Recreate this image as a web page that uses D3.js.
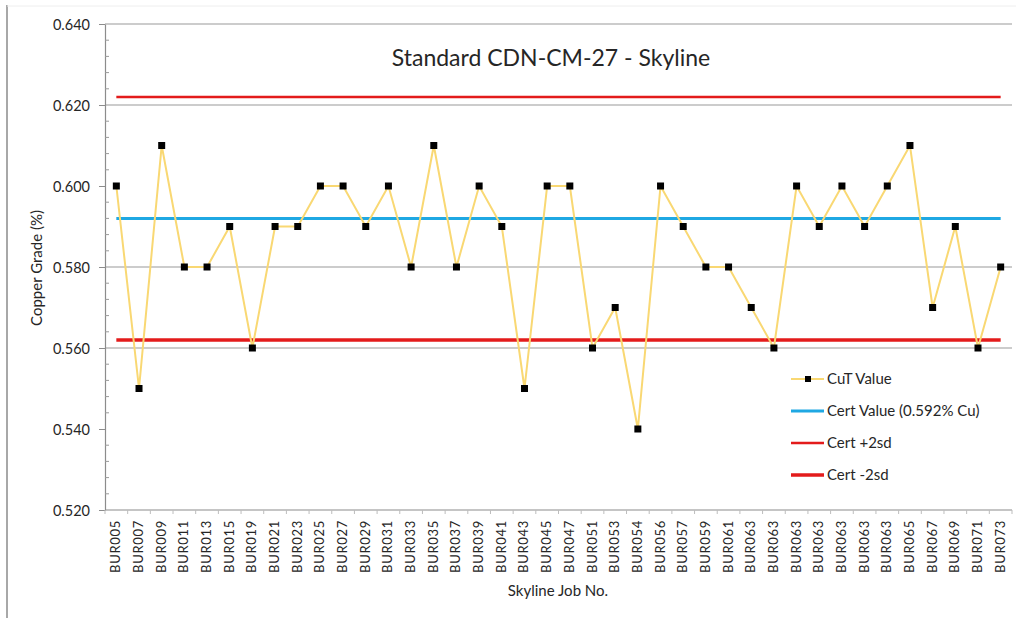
<!DOCTYPE html>
<html lang="en">
<head>
    <meta charset="UTF-8">
    <title>Standard CDN-CM-27 - Skyline</title>
    <script src="https://d3js.org/d3.v7.min.js"></script>
    <style>
        body { margin: 0; background: #fff; }
        svg text { font-family: Lato, "Open Sans", sans-serif; fill: #262626; }
        .axis path, .axis line { stroke: #8c8c8c; }
    </style>
</head>
<body>
    <script>
        // Chart data
        const jobs = ["BUR005","BUR007","BUR009","BUR011","BUR013","BUR015","BUR019","BUR021","BUR023","BUR025",
                      "BUR027","BUR029","BUR031","BUR033","BUR035","BUR037","BUR039","BUR041","BUR043","BUR045",
                      "BUR047","BUR051","BUR053","BUR054","BUR056","BUR057","BUR059","BUR061","BUR063","BUR063",
                      "BUR063","BUR063","BUR063","BUR063","BUR063","BUR065","BUR067","BUR069","BUR071","BUR073"];
        const cutValues = [0.600,0.550,0.610,0.580,0.580,0.590,0.560,0.590,0.590,0.600,
                           0.600,0.590,0.600,0.580,0.610,0.580,0.600,0.590,0.550,0.600,
                           0.600,0.560,0.570,0.540,0.600,0.590,0.580,0.580,0.570,0.560,
                           0.600,0.590,0.600,0.590,0.600,0.610,0.570,0.590,0.560,0.580];
        const certValue = 0.592;
        const certPlus2sd = 0.622;
        const certMinus2sd = 0.562;
        const yTicks = [0.520, 0.540, 0.560, 0.580, 0.600, 0.620, 0.640];
        const gridValues = [0.560, 0.580, 0.620, 0.640]; // only these show in the original
        const legendLabels = ["CuT Value", "Cert Value (0.592% Cu)", "Cert +2sd", "Cert -2sd"];

        const width = 1016, height = 618;
        const plotLeft = 105, plotRight = 1012, plotTop = 24, plotBottom = 510;

        const svg = d3.select("body").append("svg")
            .attr("width", width)
            .attr("height", height);

        // outer frame bits
        svg.append("line").attr("x1", 7).attr("x2", 7).attr("y1", 5).attr("y2", height)
            .attr("stroke", "#a8a8a8").attr("stroke-width", 2);
        svg.append("line").attr("x1", 7).attr("x2", width).attr("y1", 6).attr("y2", 6)
            .attr("stroke", "#eeeeee").attr("stroke-width", 1);

        const x = d3.scaleBand().domain(d3.range(jobs.length)).range([plotLeft, plotRight]);
        const cx = i => x(i) + x.bandwidth() / 2;
        const y = d3.scaleLinear().domain([0.52, 0.64]).range([plotBottom, plotTop]);

        // gridlines
        svg.append("g").selectAll("line")
            .data(gridValues)
            .join("line")
            .attr("x1", plotLeft).attr("x2", plotRight)
            .attr("y1", d => y(d)).attr("y2", d => y(d))
            .attr("stroke", "#9a9a9a").attr("stroke-width", 1.2);

        // y axis
        const yAxis = svg.append("g")
            .attr("class", "axis")
            .attr("transform", `translate(${plotLeft},0)`)
            .call(d3.axisLeft(y).tickValues(yTicks).tickFormat(d3.format(".3f")).tickSize(6).tickSizeOuter(0));
        yAxis.selectAll("text").style("font-size", "14.5px").attr("x", -15).attr("dy", "0.35em");
        yAxis.select(".domain").attr("stroke-width", 1.2);

        // minor ticks inside
        const minor = d3.range(0.524, 0.64, 0.004).filter(v => Math.abs(v * 100 - Math.round(v * 50) * 2) > 0.01);
        svg.append("g").selectAll("line")
            .data(minor)
            .join("line")
            .attr("x1", plotLeft).attr("x2", plotLeft + 4)
            .attr("y1", d => y(d)).attr("y2", d => y(d))
            .attr("stroke", "#9a9a9a");

        // x axis
        svg.append("line").attr("x1", plotLeft).attr("x2", plotRight).attr("y1", plotBottom).attr("y2", plotBottom)
            .attr("stroke", "#8c8c8c").attr("stroke-width", 1.2);
        svg.append("g").selectAll("line")
            .data(d3.range(jobs.length + 1))
            .join("line")
            .attr("x1", i => plotLeft + i * x.bandwidth()).attr("x2", i => plotLeft + i * x.bandwidth())
            .attr("y1", plotBottom).attr("y2", plotBottom + 4)
            .attr("stroke", "#bdbdbd");
        svg.append("g").selectAll("text")
            .data(jobs)
            .join("text")
            .attr("transform", (d, i) => `translate(${cx(i) + 4},${plotBottom + 10}) rotate(-90)`)
            .attr("text-anchor", "end")
            .style("font-size", "13px")
            .style("letter-spacing", "0.7px")
            .text(d => d);

        // reference lines
        const firstX = cx(0), lastX = cx(jobs.length - 1);
        const refs = [
            { v: certPlus2sd, color: "#e31b1b", w: 2.5 },
            { v: certValue, color: "#1fa8e3", w: 3 },
            { v: certMinus2sd, color: "#e31b1b", w: 3.5 }
        ];
        svg.append("g").selectAll("line")
            .data(refs)
            .join("line")
            .attr("x1", firstX).attr("x2", lastX)
            .attr("y1", d => y(d.v)).attr("y2", d => y(d.v))
            .attr("stroke", d => d.color).attr("stroke-width", d => d.w);

        // CuT series
        const line = d3.line().x((d, i) => cx(i)).y(d => y(d));
        svg.append("path")
            .datum(cutValues)
            .attr("fill", "none")
            .attr("stroke", "#f9d873")
            .attr("stroke-width", 2)
            .attr("d", line);
        svg.append("g").selectAll("rect")
            .data(cutValues)
            .join("rect")
            .attr("x", (d, i) => cx(i) - 3.5).attr("y", d => y(d) - 3.5)
            .attr("width", 7).attr("height", 7)
            .attr("fill", "#000");

        // title
        svg.append("text")
            .attr("x", 551).attr("y", 66)
            .attr("text-anchor", "middle")
            .style("font-size", "23px")
            .text("Standard CDN-CM-27 - Skyline");

        // axis titles
        svg.append("text")
            .attr("transform", "translate(42,268) rotate(-90)")
            .attr("text-anchor", "middle")
            .style("font-size", "15px")
            .text("Copper Grade (%)");
        svg.append("text")
            .attr("x", 558).attr("y", 596)
            .attr("text-anchor", "middle")
            .style("font-size", "15px")
            .text("Skyline Job No.");

        // legend
        const legendStyles = [
            { color: "#f9d873", w: 2, marker: true },
            { color: "#1fa8e3", w: 3, marker: false },
            { color: "#e31b1b", w: 2.5, marker: false },
            { color: "#e31b1b", w: 3.5, marker: false }
        ];
        const legend = svg.append("g").attr("transform", "translate(791,379)");
        const rows = legend.selectAll("g")
            .data(legendLabels)
            .join("g")
            .attr("transform", (d, i) => `translate(0,${i * 32})`);
        rows.append("line")
            .attr("x1", 0).attr("x2", 33).attr("y1", 0).attr("y2", 0)
            .attr("stroke", (d, i) => legendStyles[i].color)
            .attr("stroke-width", (d, i) => legendStyles[i].w);
        rows.filter((d, i) => legendStyles[i].marker)
            .append("rect")
            .attr("x", 14).attr("y", -3).attr("width", 6).attr("height", 6)
            .attr("fill", "#000");
        rows.append("text")
            .attr("x", 36).attr("y", 0).attr("dy", "0.35em")
            .style("font-size", "15px")
            .text(d => d);
    </script>
</body>
</html>
